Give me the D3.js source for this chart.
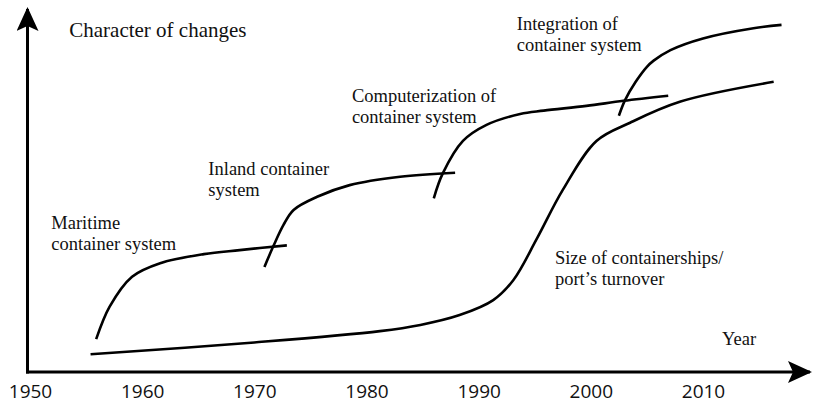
<!DOCTYPE html>
<html>
<head>
<meta charset="utf-8">
<script src="https://cdn.jsdelivr.net/npm/d3@7"></script>
<style>
  html, body { margin: 0; padding: 0; background: #fff; }
  svg { display: block; }
  .lbl { font-family: "Liberation Serif", "Times New Roman", serif; font-size: 18.5px; fill: #111; }
  .tick text { font-family: "Open Sans", "Liberation Sans", Arial, sans-serif; font-size: 19px; fill: #111; }
</style>
</head>
<body>
<svg id="chart" width="813" height="405"></svg>
<script>
// ---- data (year, relative level 0-100) ----
const tickYears = [1950, 1960, 1970, 1980, 1990, 2000, 2010];

const maritimeYears  = [1955.9, 1957.1, 1959.1, 1961.6, 1965.5, 1968.7, 1972.9];
const maritimeValues = [9.0, 17.9, 26.1, 29.8, 32.3, 33.4, 34.7];

const inlandYears  = [1970.9, 1971.7, 1972.6, 1973.5, 1975.6, 1978.5, 1983.0, 1987.9];
const inlandValues = [28.8, 34.5, 40.3, 44.4, 48.0, 51.2, 53.5, 54.6];

const computerYears  = [1986.0, 1986.8, 1988.6, 1990.7, 1993.7, 1995.8, 1999.6, 2002.9, 2006.9];
const computerValues = [47.6, 54.4, 63.3, 67.7, 70.7, 71.6, 72.9, 74.3, 75.7];

const integrationYears  = [2002.5, 2003.05, 2004.0, 2005.0, 2005.6, 2007.1, 2010.0, 2014.5, 2017.0];
const integrationValues = [70.2, 74.5, 79.5, 83.6, 85.3, 88.2, 91.4, 94.2, 95.1];

const sizeYears  = [1955.4, 1970.0, 1981.2, 1984.8, 1988.3, 1991.3, 1993.1, 1995.2, 1997.5, 2000.5, 2003.5, 2008.0, 2016.3];
const sizeValues = [4.85, 8.1, 11.2, 12.9, 15.6, 19.7, 25.2, 36.6, 49.9, 63.3, 68.3, 74.1, 79.5];

const seriesNames = ["Maritime", "Inland", "Computerization", "Integration", "Size"];

const labelLines = [
  { lines: ["Character of changes"], year: 1953.5, value: 91.8, big: true },
  { lines: ["Maritime", "container system"], year: 1951.9, value: 39.2 },
  { lines: ["Inland container", "system"], year: 1965.9, value: 53.9 },
  { lines: ["Computerization of", "container system"], year: 1978.7, value: 74.0 },
  { lines: ["Integration of", "container system"], year: 1993.4, value: 93.7 },
  { lines: ["Size of containerships/", "port\u2019s turnover"], year: 1996.8, value: 29.6 },
  { lines: ["Year"], year: 2011.7, value: 7.4 }
];

// ---- drawing ----
const svg = d3.select("#chart");
const x = d3.scaleLinear().domain([1950, 2010]).range([30, 703]);
const y = d3.scaleLinear().domain([0, 100]).range([372, 7]);

const zip = (xs, vs) => xs.map((d, i) => ({ year: d, value: vs[i] }));
const series = [
  zip(maritimeYears, maritimeValues),
  zip(inlandYears, inlandValues),
  zip(computerYears, computerValues),
  zip(integrationYears, integrationValues),
  zip(sizeYears, sizeValues)
];

// arrow markers
const defs = svg.append("defs");
defs.append("marker")
  .attr("id", "arrow")
  .attr("viewBox", "0 0 24 22")
  .attr("refX", 22).attr("refY", 11)
  .attr("markerWidth", 24).attr("markerHeight", 22)
  .attr("markerUnits", "userSpaceOnUse")
  .attr("orient", "auto")
  .append("path")
  .attr("d", "M0,0 L24,11 L0,22 L5,11 Z")
  .attr("fill", "#000");

// axes lines
const x0 = 27.5, y0 = 372;
svg.append("line")
  .attr("x1", x0).attr("y1", y0 + 1.5).attr("x2", x0).attr("y2", 9)
  .attr("stroke", "#000").attr("stroke-width", 3)
  .attr("marker-end", "url(#arrow)");
svg.append("line")
  .attr("x1", x0 - 1.5).attr("y1", y0).attr("x2", 810).attr("y2", y0)
  .attr("stroke", "#000").attr("stroke-width", 3)
  .attr("marker-end", "url(#arrow)");

// tick labels via d3 axis
const xAxis = d3.axisBottom(x).tickValues(tickYears).tickSize(0).tickPadding(13).tickFormat(d3.format("d"));
const gx = svg.append("g").attr("transform", `translate(0,${y0})`).call(xAxis);
gx.select(".domain").remove();
gx.selectAll(".tick text").attr("font-family", null).attr("font-size", null);

// curves
const line = d3.line()
  .x(d => x(d.year))
  .y(d => y(d.value))
  .curve(d3.curveCatmullRom.alpha(0.5));

svg.selectAll("path.curve")
  .data(series)
  .join("path")
  .attr("class", "curve")
  .attr("data-name", (d, i) => seriesNames[i])
  .attr("d", line)
  .attr("fill", "none")
  .attr("stroke", "#000")
  .attr("stroke-width", 2.6)
  .attr("stroke-linecap", "butt");

// text labels
labelLines.forEach(l => {
  const t = svg.append("text")
    .attr("class", "lbl")
    .attr("x", x(l.year))
    .attr("y", y(l.value));
  if (l.big) t.style("font-size", "21px");
  l.lines.forEach((s, i) => {
    t.append("tspan")
      .attr("x", x(l.year))
      .attr("dy", i === 0 ? 0 : "1.12em")
      .text(s);
  });
});
</script>
</body>
</html>
